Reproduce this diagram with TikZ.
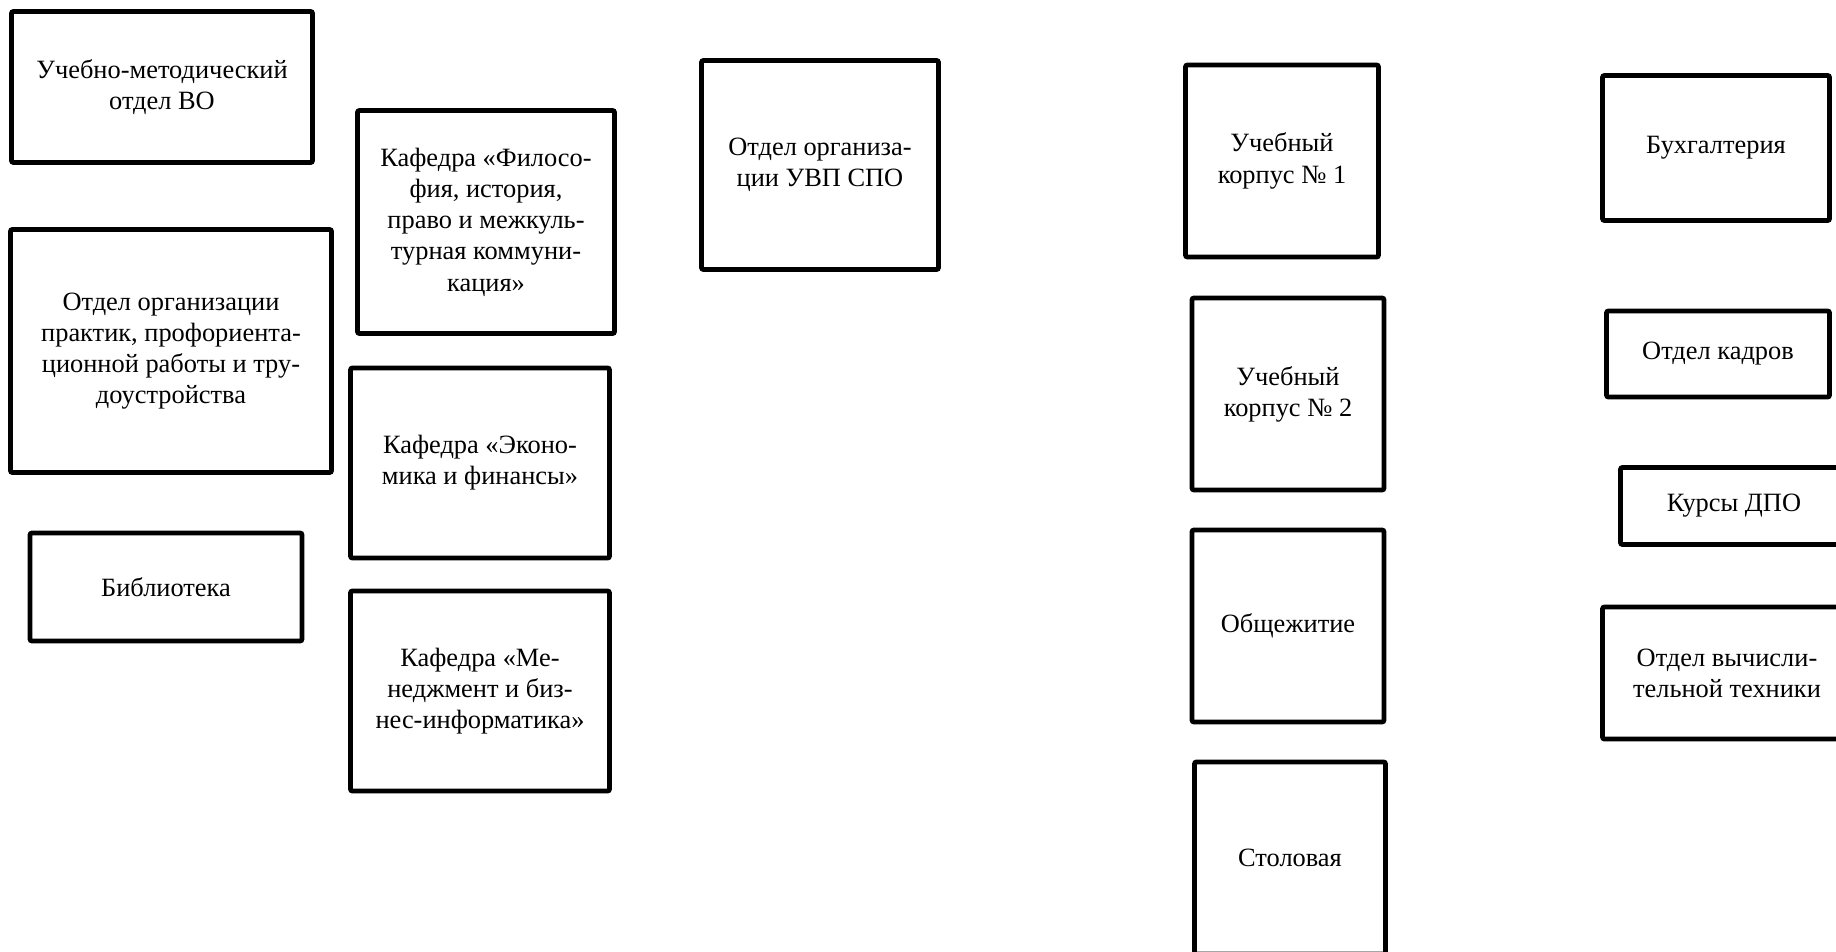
\documentclass[tikz,border=0pt]{standalone}
\usepackage{fontspec}
\setmainfont{Liberation Serif}
\usetikzlibrary{positioning}

\begin{document}
\begin{tikzpicture}[
        x=0.5pt, y=-0.5pt,
        unit/.style={draw, line width=2.4pt, rounded corners=1pt, inner sep=0pt,
                     align=center, font=\fontsize{13.2}{15.6}\selectfont},
        sz/.style 2 args={minimum width=#1*0.5pt, minimum height=#2*0.5pt},
    ]
        \useasboundingbox (0,0) rectangle (1836,952);

        % Column 1: departments
        \node[unit, sz={301}{151}] (umo)  at (162, 87)  {Учебно-методический\\отдел ВО};
        \node[unit, sz={321}{243}] (prak) at (171, 351) {Отдел организации\\практик, профориента-\\ционной работы и тру-\\доустройства};
        \node[unit, sz={272}{108}] (bibl) at (166, 587) {Библиотека};

        % Column 2: chairs
        \node[unit, sz={257}{223}] (kfil) at (486, 222) {Кафедра «Филосо-\\фия, история,\\право и межкуль-\\турная коммуни-\\кация»};
        \node[unit, sz={259}{190}] (kek)  at (480, 463) {Кафедра «Эконо-\\мика и финансы»};
        \node[unit, sz={259}{200}] (kmen) at (480, 691) {Кафедра «Ме-\\неджмент и биз-\\нес-информатика»};

        % Column 3
        \node[unit, sz={237}{209}] (uvp)  at (820, 165) {Отдел организа-\\ции УВП СПО};

        % Column 4: buildings
        \node[unit, sz={193}{192}] (korp1) at (1282, 161) {Учебный\\корпус № 1};
        \node[unit, sz={192}{192}] (korp2) at (1288, 394) {Учебный\\корпус № 2};
        \node[unit, sz={192}{192}] (obsh)  at (1288, 626) {Общежитие};
        \node[unit, sz={191}{192}] (stol)  at (1290, 858) {Столовая};

        % Column 5: services
        \node[unit, sz={227}{145}] (buh)  at (1716, 148) {Бухгалтерия};
        \node[unit, sz={223}{86}]  (kadr) at (1718, 354) {Отдел кадров};
        \node[unit, sz={227}{77}]  (dpo)  at (1734, 506) {Курсы ДПО};
        \node[unit, sz={249}{132}] (vt)   at (1727, 673) {Отдел вычисли-\\тельной техники};
    \end{tikzpicture}
\end{document}
